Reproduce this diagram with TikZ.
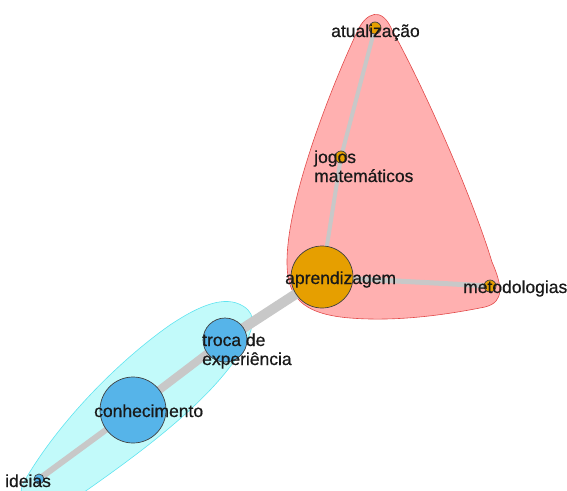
\documentclass[tikz,border=0pt]{standalone}
\usepackage{fontspec}
\setmainfont{Liberation Sans}
\newfontface\lblfont{Liberation Sans}[FakeBold=0.6]
\usepackage{xcolor}
\definecolor{grpred}{RGB}{255,176,176}
\definecolor{grpredline}{RGB}{226,74,74}
\definecolor{grpcyan}{RGB}{194,250,250}
\definecolor{grpcyanline}{RGB}{96,228,240}
\definecolor{vorange}{RGB}{230,159,0}
\definecolor{vblue}{RGB}{86,180,233}
\definecolor{edgegray}{RGB}{200,200,200}

\begin{document}
\begin{tikzpicture}[x=1pt,y=-1pt]
\tikzset{
    vo/.style={%
        draw=black!75, fill=vorange,
        circle, inner sep=0pt, line width=0.7pt
        },
    vb/.style={%
        draw=black!75, fill=vblue,
        circle, inner sep=0pt, line width=0.7pt
        },
    lbl/.style={%
        anchor=base west, inner sep=0pt,
        text=black!90, align=left,
        font=\lblfont\fontsize{17.5}{19}\selectfont
        },
    ed/.style={%
        draw=edgegray, line cap=butt
        },
}
\useasboundingbox (0,0) rectangle (567,490);
\clip (0,0) rectangle (567,490);
%%%GROUPS
\filldraw[fill=grpred, draw=grpredline, line width=0.6pt]
(357,32) .. controls (366,12) and (382,6) .. (392,30)
.. controls (420,80) and (470,190) .. (492,262)
.. controls (502,285) and (505,302) .. (485,307)
.. controls (450,314) and (400,322) .. (350,318)
.. controls (300,314) and (287,295) .. (287,262)
.. controls (287,200) and (330,90) .. (357,32) -- cycle;
\filldraw[fill=grpcyan, draw=grpcyanline, line width=0.6pt]
(243,306) .. controls (225,295) and (200,305) .. (170,325)
.. controls (120,360) and (60,420) .. (25,480)
.. controls (10,505) and (40,515) .. (80,495)
.. controls (130,460) and (200,410) .. (235,360)
.. controls (255,330) and (258,315) .. (243,306) -- cycle;
%%%VERTICES
\coordinate (atualizacao) at (375,28);
\coordinate (jogos) at (341,157);
\coordinate (aprend) at (322,277);
\coordinate (metod) at (490,286);
\coordinate (troca) at (225,340);
\coordinate (conhec) at (133,410);
\coordinate (ideias) at (39,479);
%%%EDGES
\draw[ed, line width=4pt] (atualizacao) -- (jogos);
\draw[ed, line width=4pt] (jogos) -- (aprend);
\draw[ed, line width=5pt] (aprend) -- (metod);
\draw[ed, line width=10pt] (aprend) -- (troca);
\draw[ed, line width=8pt] (troca) -- (conhec);
\draw[ed, line width=6pt] (conhec) -- (ideias);
\node[vo, minimum size=12pt] (v1) at (atualizacao) {};
\node[vo, minimum size=12pt] (v2) at (jogos) {};
\node[vo, minimum size=62pt] (v3) at (aprend) {};
\node[vo, minimum size=12pt] (v4) at (metod) {};
\node[vb, minimum size=44pt] (v5) at (troca) {};
\node[vb, minimum size=66pt] (v6) at (conhec) {};
\node[vb, minimum size=10pt] (v7) at (ideias) {};
%%%LABELS
\node[lbl] (l1) at (331,37) {atualização};
\node[lbl] (l2) at (314,182) {jogos\\matemáticos};
\node[lbl] (l3) at (285,284) {aprendizagem};
\node[lbl] (l4) at (463,293) {metodologias};
\node[lbl] (l5) at (202,365) {troca de\\experiência};
\node[lbl] (l6) at (94,417) {conhecimento};
\node[lbl] (l7) at (5,487) {ideias};
\end{tikzpicture}
\end{document}
